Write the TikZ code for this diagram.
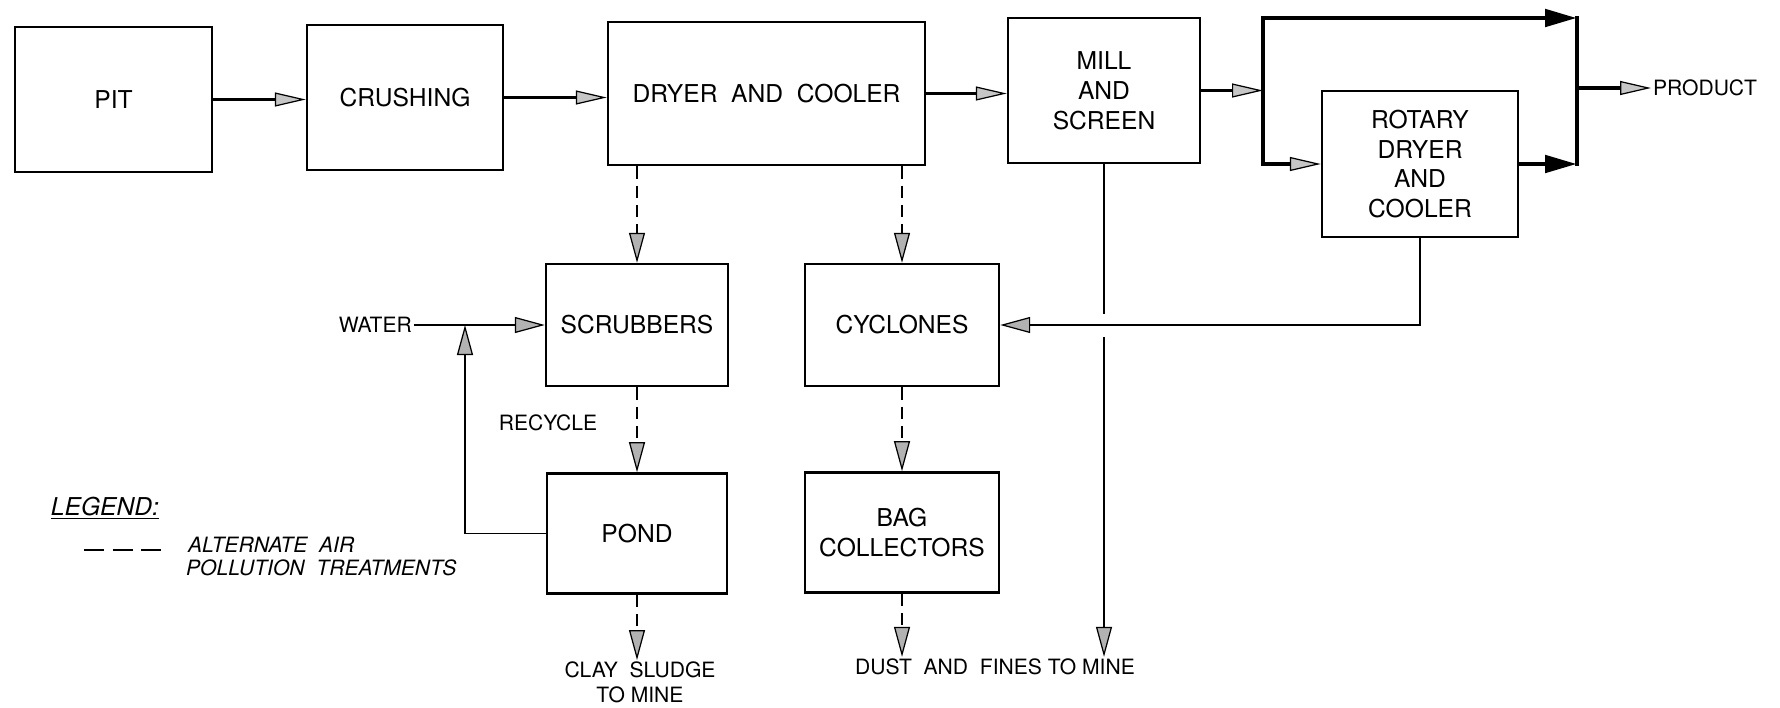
\documentclass[tikz,border=0pt]{standalone}
\usepackage{fontspec}
\setmainfont{TeX Gyre Heros}
\usetikzlibrary{positioning,arrows.meta,calc}

\begin{document}
\begin{tikzpicture}[
  box/.style={draw, line width=1.4pt, align=center, inner sep=2pt,
              font=\fontsize{14}{17}\selectfont},
  lbl/.style={inner sep=1pt, font=\fontsize{12}{14}\selectfont},
  legtxt/.style={lbl, font=\fontsize{12}{14}\selectfont\itshape},
  gtip/.style={-{Triangle[length=6.2mm, width=2.8mm, fill=gray!45, line width=0.7pt]}},
  ltip/.style={-{Triangle[length=6mm, width=3.2mm, fill=gray!60, line width=0.7pt]}},
  dtip/.style={-{Triangle[length=6.4mm, width=3.4mm]}},
  main/.style={line width=2.2pt, gtip},
  heavy/.style={line width=2.8pt, line cap=rect},
  pipe/.style={line width=0.9pt},
  altline/.style={line width=1.1pt, dash pattern=on 7pt off 4pt}
]
\useasboundingbox (0,0) rectangle (35.6,-14.14);

% process line
\node[box, minimum width=3.94cm, minimum height=2.9cm] (pit) at (2.27,-1.99) {PIT};
\node[box, minimum width=3.92cm, minimum height=2.9cm] (crush) at (8.10,-1.95) {CRUSHING};
\node[box, minimum width=6.34cm, minimum height=2.86cm] (dryer) at (15.33,-1.87) {DRYER\ \ AND\ \ COOLER};
\node[box, minimum width=3.84cm, minimum height=2.9cm] (mill) at (22.08,-1.81) {MILL\\AND\\SCREEN};
\node[box, minimum width=3.92cm, minimum height=2.92cm] (rotary) at (28.4,-3.28) {ROTARY\\DRYER\\AND\\COOLER};

% air pollution treatments
\node[box, minimum width=3.64cm, minimum height=2.44cm] (scrub) at (12.74,-6.5) {SCRUBBERS};
\node[box, minimum width=3.88cm, minimum height=2.44cm] (cyc) at (18.04,-6.5) {CYCLONES};
\node[box, minimum width=3.6cm, minimum height=2.4cm, below=1.7cm of scrub] (pond) {POND};
\node[box, minimum width=3.88cm, minimum height=2.4cm, below=1.68cm of cyc] (bag) {BAG\\COLLECTORS};

% labels
\node[lbl, anchor=east] (water) at (8.28,-6.5) {WATER};
\node[lbl] (recycle) at (10.96,-8.46) {RECYCLE};
\node[lbl, align=center] (clay) at (12.8,-13.65) {CLAY\ \ SLUDGE\\TO MINE};
\node[lbl] (dust) at (19.9,-13.34) {DUST\ \ AND\ \ FINES TO MINE};
\node[lbl, anchor=west] (prod) at (33.02,-1.76) {PRODUCT};

\coordinate (bl) at (25.26,-0.36);
\coordinate (br) at (31.54,-0.36);
\coordinate (jn) at (9.3,-6.5);

% main flow
\draw[main] (pit.east) -- (pit.east -| crush.west);
\draw[main] (crush.east) -- (crush.east -| dryer.west);
\draw[main] (dryer.east) -- (dryer.east -| mill.west);
\draw[main] (mill.east) -- (mill.east -| bl);
\draw[heavy, dtip] (bl |- rotary.west) -- (bl) -- (br);
\draw[heavy, gtip] (bl |- rotary.west) -- (rotary.west);
\draw[heavy] (br) -- (br |- rotary.east);
\draw[heavy, dtip] (rotary.east) -- (rotary.east -| br);
\draw[main] (br |- prod.west) -- (prod.west);

% dashed branches
\draw[altline, ltip] (dryer.south -| scrub.north) -- (scrub.north);
\draw[altline, ltip] (dryer.south -| cyc.north) -- (cyc.north);
\draw[altline, ltip] (scrub.south) -- (pond.north);
\draw[altline, ltip] (cyc.south) -- (bag.north);
\draw[altline, ltip] (pond.south) -- (pond.south |- clay.north);
\draw[altline, ltip] (bag.south) -- (bag.south |- dust.north);

% water and fines
\draw[pipe, ltip] (water.east) -- (scrub.west);
\draw[pipe, ltip] (pond.west) -| (jn);
\draw[pipe, ltip] (mill.south) -- (mill.south |- dust.north);
\fill[white] ($(mill.south |- cyc.east)+(-0.12,-0.23)$) rectangle ($(mill.south |- cyc.east)+(0.12,0.23)$);
\draw[pipe, ltip] (rotary.south) |- (cyc.east);

% legend
\node[lbl, font=\fontsize{14}{16}\selectfont\itshape] (legend) at (2.1,-10.16) {\underline{LEGEND:}};
\node[legtxt, anchor=west] (alt1) at (3.72,-10.9) {ALTERNATE\ \ AIR};
\node[legtxt, anchor=west] (alt2) at (3.68,-11.36) {POLLUTION\ \ TREATMENTS};
\draw[line width=1.1pt, dash pattern=on 0.4cm off 0.17cm]
  ([xshift=-2.04cm,yshift=-0.1cm]alt1.west) -- ([xshift=-0.5cm,yshift=-0.1cm]alt1.west);
\end{tikzpicture}
\end{document}
